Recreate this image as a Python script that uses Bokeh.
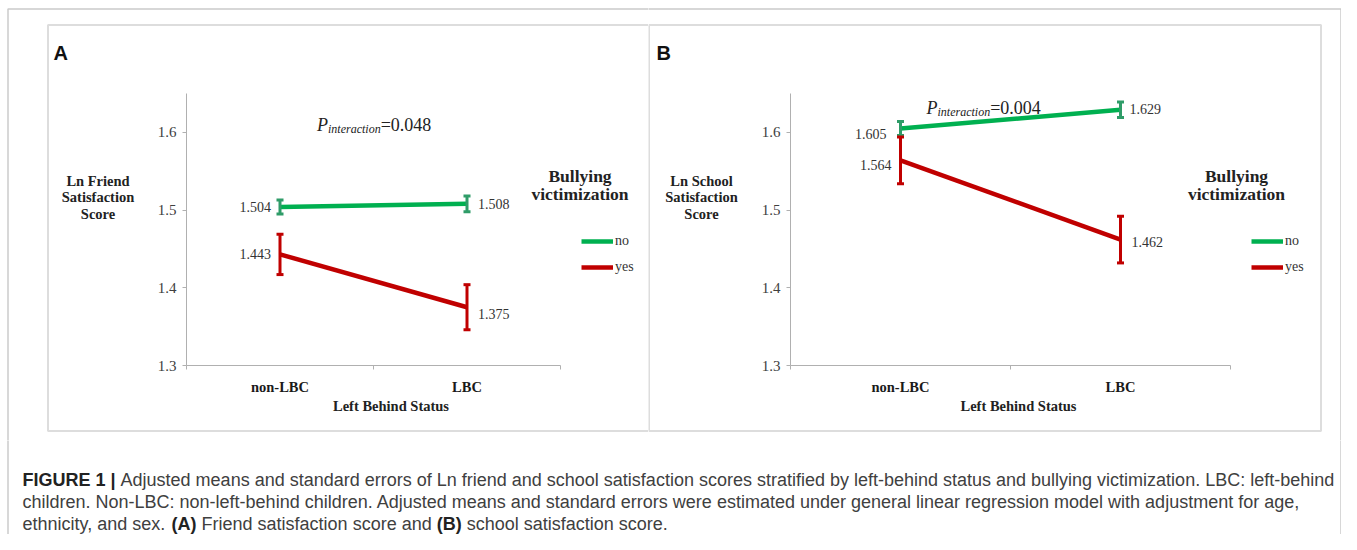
from bokeh.plotting import figure
from bokeh.models import (ColumnDataSource, Whisker, TeeHead, Legend, LegendItem, Label,
                          BoxAnnotation, FixedTicker, PrintfTickFormatter, Range1d)
from bokeh.layouts import column, row
from bokeh.embed import file_html
from bokeh.resources import INLINE

# ---------------- data ----------------
categories = ["non-LBC", "LBC"]
series_names = ["no", "yes"]

friend_no_mean = [1.504, 1.508]
friend_no_se = [0.009, 0.010]
friend_yes_mean = [1.443, 1.375]
friend_yes_se = [0.026, 0.029]

school_no_mean = [1.605, 1.629]
school_no_se = [0.009, 0.010]
school_yes_mean = [1.564, 1.462]
school_yes_se = [0.030, 0.030]

y_ticks = [1.3, 1.4, 1.5, 1.6]
y_limits = [1.3, 1.65]
p_values = ["0.048", "0.004"]
panel_letters = ["A", "B"]
y_titles = [["Ln Friend", "Satisfaction", "Score"], ["Ln School", "Satisfaction", "Score"]]
x_title = "Left Behind Status"
legend_title = ["Bullying", "victimization"]

caption_lines = [
    [("FIGURE 1 |", True), (" Adjusted means and standard errors of Ln friend and school satisfaction scores "
                            "stratified by left-behind status and bullying victimization. LBC: left-behind", False)],
    [("children. Non-LBC: non-left-behind children. Adjusted means and standard errors were estimated under "
      "general linear regression model with adjustment for age,", False)],
    [("ethnicity, and sex. ", False), ("(A)", True), (" Friend satisfaction score and ", False),
     ("(B)", True), (" school satisfaction score.", False)],
]

# ---------------- style ----------------
GREEN = "#00B050"
GREEN_ERR = "#2F9C68"
RED = "#C00000"
SERIF = "Liberation Serif"
SANS = "Liberation Sans"
AXIS_GRAY = "#b0b0b0"

# Arial / Liberation Sans advance widths (per 1000 em) used to place bold runs
W_REG = {' ': 278, ',': 278, '.': 278, 'a': 556, 'c': 500, 'd': 556, 'e': 556, 'f': 278, 'h': 556,
         'i': 222, 'n': 556, 'o': 556, 'r': 333, 's': 500, 't': 278, 'x': 500, 'y': 500, 'F': 611}
W_BOLD = {' ': 278, '(': 333, ')': 333, '1': 556, '|': 280, 'A': 722, 'B': 722, 'E': 667, 'F': 611,
          'G': 778, 'I': 278, 'R': 722, 'U': 722}


def text_width(s, bold, size):
    table = W_BOLD if bold else W_REG
    return sum(table.get(ch, 556) for ch in s) * size / 1000.0


def clabel(p, x, y, text, size, font=SERIF, style="normal", align="left",
           baseline="middle", color="#222222"):
    p.add_layout(Label(x=x, y=y, x_units="canvas", y_units="canvas", text=text,
                       text_font=font, text_font_size=f"{size}px", text_font_style=style,
                       text_align=align, text_baseline=baseline, text_color=color))


def frame_box(p, left, right, top, bottom, color, width):
    p.add_layout(BoxAnnotation(left=left, right=right, top=top, bottom=bottom,
                               left_units="canvas", right_units="canvas",
                               top_units="canvas", bottom_units="canvas",
                               fill_alpha=0, line_color=color, line_width=width,
                               level="overlay"))


FIG_H = 440
AX_TOP = 93      # pixel row of y = 1.65
AX_BOTTOM = 365  # pixel row of y = 1.30

panel_layouts = [
    dict(width=648, ax_left=186, ax_right=560, letter_x=53, ytitle_x=97.5, xtitle_x=390.5,
         legtitle_x=579.5, legend_left=581, p_x=316.5, p_base=124.5,
         panel_box=(47.5, 900, 24.5, 430.5), outer_box=(7.5, 900, 8.5, 900),
         offsets={("no", 0): (-9, 0, "right"), ("no", 1): (11, 0, "left"),
                  ("yes", 0): (-9, 0, "right"), ("yes", 1): (11, 7, "left")}),
    dict(width=693, ax_left=142, ax_right=582, letter_x=8, ytitle_x=53, xtitle_x=370,
         legtitle_x=588, legend_left=603, p_x=278, p_base=107.5,
         panel_box=(0.5, 672.5, 24.5, 430.5), outer_box=(-10, 692.5, 8.5, 900),
         offsets={("no", 0): (-14, 6, "right"), ("no", 1): (9, -1, "left"),
                  ("yes", 0): (-9, 5, "right"), ("yes", 1): (11, 2, "left")}),
]


def make_panel(idx, no_mean, no_se, yes_mean, yes_se):
    L = panel_layouts[idx]
    W = L["width"]
    ncat = len(categories)
    # view ranges chosen so that the axes sit at the wanted pixel positions
    xpx = (L["ax_right"] - L["ax_left"]) / ncat
    x0 = -L["ax_left"] / xpx
    x1 = ncat + (W - L["ax_right"]) / xpx
    ypx = (AX_BOTTOM - AX_TOP) / (y_limits[1] - y_limits[0])
    y1 = y_limits[1] + AX_TOP / ypx
    y0 = y_limits[0] - (FIG_H - AX_BOTTOM) / ypx

    p = figure(width=W, height=FIG_H, min_border=0, min_border_left=0, min_border_right=0,
               min_border_top=0, min_border_bottom=0,
               x_range=Range1d(x0, x1), y_range=Range1d(y0, y1),
               toolbar_location=None, output_backend="svg", title=None)
    p.outline_line_color = None
    p.background_fill_color = "white"
    p.border_fill_color = "white"
    p.xgrid.grid_line_color = None
    p.ygrid.grid_line_color = None

    xs = [i + 0.5 for i in range(ncat)]

    # y axis
    yax = p.yaxis[0]
    yax.fixed_location = 0
    yax.bounds = tuple(y_limits)
    yax.ticker = FixedTicker(ticks=y_ticks)
    yax.formatter = PrintfTickFormatter(format="%.1f")
    yax.axis_line_color = AXIS_GRAY
    yax.major_tick_line_color = AXIS_GRAY
    yax.major_tick_out = 4
    yax.major_tick_in = 0
    yax.minor_tick_line_color = None
    yax.major_label_standoff = 6
    yax.major_label_text_font = SERIF
    yax.major_label_text_font_size = "15px"
    yax.major_label_text_color = "#404040"

    # x axis (labels centred in categories, ticks on category boundaries)
    xax = p.xaxis[0]
    xax.fixed_location = y_limits[0]
    xax.bounds = (0, ncat)
    xax.ticker = FixedTicker(ticks=xs, minor_ticks=list(range(ncat + 1)))
    xax.major_label_overrides = {x: c for x, c in zip(xs, categories)}
    xax.axis_line_color = AXIS_GRAY
    xax.major_tick_line_color = None
    xax.major_tick_out = 0
    xax.major_tick_in = 0
    xax.minor_tick_line_color = AXIS_GRAY
    xax.minor_tick_out = 4
    xax.minor_tick_in = 0
    xax.major_label_standoff = 9
    xax.major_label_text_font = SERIF
    xax.major_label_text_font_size = "14.5px"
    xax.major_label_text_font_style = "bold"
    xax.major_label_text_color = "#1a1a1a"

    renderers = {}
    for name, mean, se, col, ecol in [("no", no_mean, no_se, GREEN, GREEN_ERR),
                                      ("yes", yes_mean, yes_se, RED, RED)]:
        src = ColumnDataSource(dict(x=xs, y=mean,
                                    upper=[m + s for m, s in zip(mean, se)],
                                    lower=[m - s for m, s in zip(mean, se)]))
        r = p.line("x", "y", source=src, line_color=col, line_width=4.5)
        renderers[name] = r
        p.add_layout(Whisker(source=src, base="x", upper="upper", lower="lower",
                             dimension="height", line_color=ecol, line_width=3,
                             upper_head=TeeHead(size=7, line_color=ecol, line_width=3),
                             lower_head=TeeHead(size=7, line_color=ecol, line_width=3),
                             level="overlay"))
        for i, (x, m) in enumerate(zip(xs, mean)):
            dx, dy, al = L["offsets"][(name, i)]
            p.add_layout(Label(x=x, y=m, x_offset=dx, y_offset=-dy, text=f"{m:.3f}",
                               text_font=SERIF, text_font_size="14px", text_align=al,
                               text_baseline="middle", text_color="#333333"))

    legend = Legend(items=[LegendItem(label=n, renderers=[renderers[n]]) for n in series_names],
                    location=(L["legend_left"], FIG_H - 277), orientation="vertical",
                    padding=0, margin=0, spacing=6, glyph_width=32, glyph_height=20,
                    label_height=20, label_standoff=2, label_text_font=SERIF,
                    label_text_font_size="14px", label_text_color="#333333",
                    border_line_color=None, background_fill_alpha=0)
    p.add_layout(legend)

    # frames
    ol, orr, ot, ob = L["outer_box"]
    frame_box(p, ol, orr, ot, ob, "#505050", 1.5)
    pl, pr, pt, pb = L["panel_box"]
    frame_box(p, pl, pr, pt, pb, "#8f8f8f", 2)

    # texts
    clabel(p, L["letter_x"], 52, panel_letters[idx], 20, font=SANS, style="bold",
           baseline="alphabetic", color="#111111")
    for k, t in enumerate(y_titles[idx]):
        clabel(p, L["ytitle_x"], 180 + 16.5 * k, t, 14.5, style="bold", align="center")
    clabel(p, L["xtitle_x"], 405, x_title, 14.5, style="bold", align="center")
    for k, t in enumerate(legend_title):
        clabel(p, L["legtitle_x"], 175 + 18 * k, t, 17.5, style="bold", align="center")
    # P_interaction=...
    px, pb_ = L["p_x"], L["p_base"]
    clabel(p, px, pb_, "P", 18, style="italic", baseline="alphabetic")
    clabel(p, px + 11, pb_ + 3.5, "interaction", 12, style="italic", baseline="alphabetic")
    clabel(p, px + 11 + 52.7, pb_, "=" + p_values[idx], 18, baseline="alphabetic")
    return p


pA = make_panel(0, friend_no_mean, friend_no_se, friend_yes_mean, friend_yes_se)
pB = make_panel(1, school_no_mean, school_no_se, school_yes_mean, school_yes_se)

# caption
CAP_H = 94
cap = figure(width=1341, height=CAP_H, x_range=Range1d(0, 1), y_range=Range1d(0, 1),
             x_axis_type=None, y_axis_type=None, toolbar_location=None,
             output_backend="svg", min_border=0, title=None)
cap.outline_line_color = None
cap.xgrid.grid_line_color = None
cap.ygrid.grid_line_color = None
frame_box(cap, 7.5, 1340.5, -10, 900, "#505050", 1.5)
CAP_SIZE = 18
for li, segs in enumerate(caption_lines):
    x = 22
    y = 39 + 22 * li
    for s, bold in segs:
        lead = len(s) - len(s.lstrip(" "))
        x += text_width(s[:lead], bold, CAP_SIZE)
        body = s.lstrip(" ")
        clabel(cap, x, y, body, CAP_SIZE, font=SANS, style="bold" if bold else "normal",
               color="#222222" if bold else "#404040")
        x += text_width(body, bold, CAP_SIZE)

layout = column(row(pA, pB, spacing=0), cap, spacing=0)
open("out.html", "w").write(file_html(layout, INLINE))
